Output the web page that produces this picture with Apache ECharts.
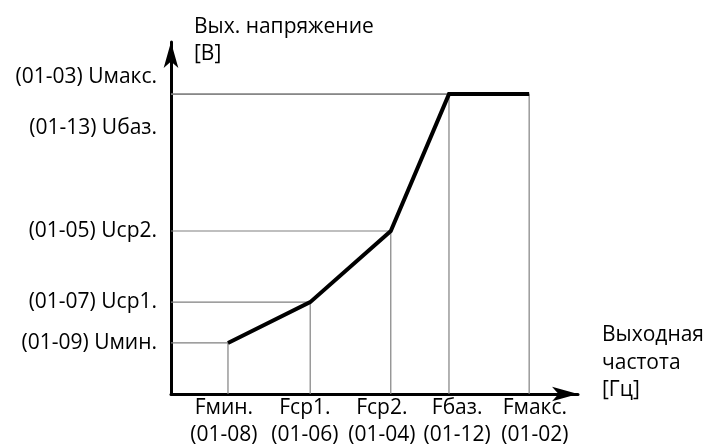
<!DOCTYPE html>
<html>
<head>
<meta charset="utf-8">
<script src="https://cdn.jsdelivr.net/npm/echarts@6/dist/echarts.min.js"></script>
<style>
  html, body { margin: 0; padding: 0; background: #fff; }
  #chart { width: 704px; height: 447px; }
</style>
</head>
<body>
<div id="chart"></div>
<script>
// V/f curve points (axis units 0..100)
var freqs = [14, 34.2, 54, 68.3, 88];
var volts = [14.5, 26.1, 46.3, 85.2, 85.2];
// tick label text and where it sits on the axis
var freqLabelPos = [13, 32.9, 51.8, 70.3, 89.4];
var freqLabels = ['Fмин.\n(01-08)', 'Fср1.\n(01-06)', 'Fср2.\n(01-04)', 'Fбаз.\n(01-12)', 'Fмакс.\n(01-02)'];
var voltLabelPos = [14.5, 26.1, 46.3, 75.6, 90];
var voltLabels = ['(01-09) Uмин.', '(01-07) Uср1.', '(01-05) Uср2.', '(01-13) Uбаз.', '(01-03) Uмакс.'];

var font = '"Open Sans", sans-serif';

var curve = [];
for (var i = 0; i < freqs.length; i++) {
  curve.push([freqs[i], volts[i]]);
}

var series = [];
// thin grey guide lines from each point down to the axes
for (var j = 0; j < freqs.length; j++) {
  series.push({
    type: 'line',
    data: [[0, volts[j]], [freqs[j], volts[j]], [freqs[j], 0]],
    showSymbol: false,
    silent: true,
    lineStyle: { color: '#808080', width: 1.2 },
    z: 1
  });
}
series.push({
  type: 'line',
  data: curve,
  showSymbol: false,
  lineStyle: { color: '#000', width: 4, cap: 'butt', join: 'miter' },
  z: 5
});

var chart = echarts.init(document.getElementById('chart'));
chart.setOption({
  animation: false,
  grid: { left: 171, right: 126, top: 42, bottom: 53, outerBoundsMode: 'none' },
  xAxis: {
    type: 'value',
    min: 0,
    max: 100,
    name: 'Выходная\nчастота\n[Гц]',
    nameLocation: 'end',
    nameGap: 24,
    nameTextStyle: { fontFamily: font, fontSize: 21, color: '#000', align: 'left', verticalAlign: 'bottom', lineHeight: 27.5, padding: [0, 0, -10, 0] },
    axisLine: { lineStyle: { color: '#000', width: 3 }, symbol: ['none', 'arrow'], symbolSize: [11, 26] },
    axisTick: { show: false },
    splitLine: { show: false },
    axisLabel: {
      customValues: freqLabelPos,
      formatter: function (v) { return freqLabels[freqLabelPos.indexOf(v)]; },
      fontFamily: font, fontSize: 21, color: '#000', lineHeight: 27, margin: 1
    }
  },
  yAxis: {
    type: 'value',
    min: 0,
    max: 100,
    name: 'Вых. напряжение\n[В]',
    nameLocation: 'end',
    nameGap: -26,
    nameTextStyle: { fontFamily: font, fontSize: 21, color: '#000', align: 'left', verticalAlign: 'bottom', lineHeight: 27, padding: [0, 0, 0, 23] },
    axisLine: { lineStyle: { color: '#000', width: 3 }, symbol: ['none', 'arrow'], symbolSize: [11, 26] },
    axisTick: { show: false },
    splitLine: { show: false },
    axisLabel: {
      customValues: voltLabelPos,
      formatter: function (v) { return voltLabels[voltLabelPos.indexOf(v)]; },
      fontFamily: font, fontSize: 21, color: '#000', margin: 14
    }
  },
  series: series
});
</script>
</body>
</html>
